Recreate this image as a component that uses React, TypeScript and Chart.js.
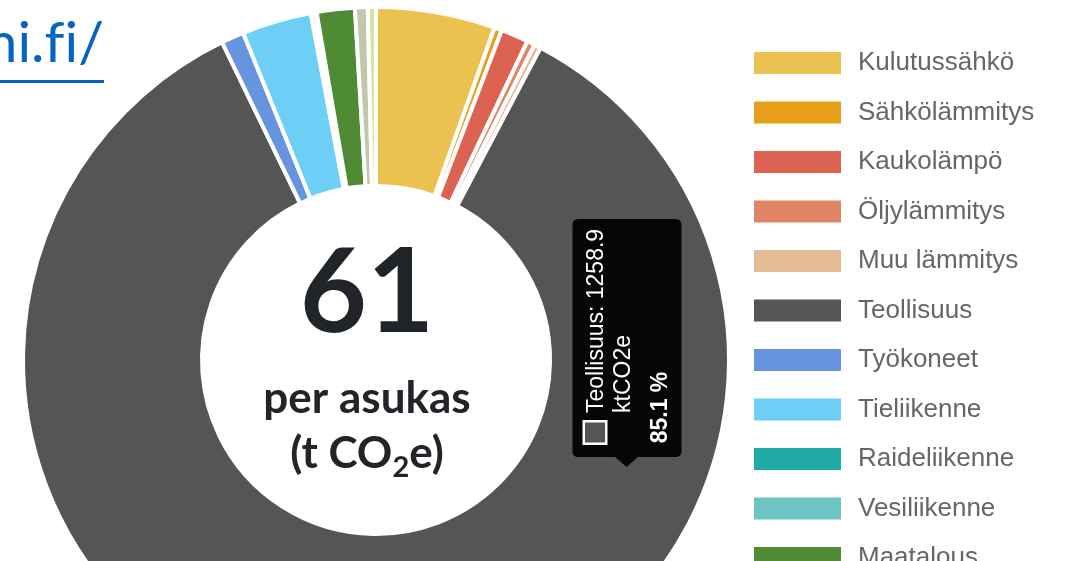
import React, { useEffect, useRef } from "react";
import { Chart, registerables } from "chart.js";

Chart.register(...registerables);

const labels = [
  "Kulutussähkö",
  "Sähkölämmitys",
  "Kaukolämpö",
  "Öljylämmitys",
  "Muu lämmitys",
  "Teollisuus",
  "Työkoneet",
  "Tieliikenne",
  "Raideliikenne",
  "Vesiliikenne",
  "Maatalous",
  "Jätteiden käsittely",
  "F-kaasut",
];
const emissions = [80.7, 5.1, 18.6, 5.3, 4.5, 1258.9, 15.4, 47.0, 2.0, 2.0, 25.7, 8.6, 5.5];
const colors = [
  "#ebc250",
  "#e59f18",
  "#dc6352",
  "#df8465",
  "#e4bb95",
  "#555555",
  "#6694df",
  "#6dcff6",
  "#20aba9",
  "#6dc5c3",
  "#4f8a34",
  "#c0c8ab",
  "#d8e39c",
];
const unit = "ktCO2e";
const perCapita = "61";
const perCapitaLabel = "per asukas";
const hoveredIndex = 5;
const linkText = "hiilineutraalisuomi.fi/";

const SANS = '"Liberation Sans", Arial, Helvetica, sans-serif';

const centerText = {
  id: "centerText",
  afterDraw(chart: any) {
    const ctx = chart.ctx as CanvasRenderingContext2D;
    const cx = 367;
    ctx.save();
    ctx.fillStyle = "#212529";
    ctx.textAlign = "center";
    ctx.textBaseline = "alphabetic";
    ctx.font = "bold 116px Lato";
    ctx.fillText(perCapita, cx, 332);
    ctx.font = "bold 44px Lato";
    ctx.fillText(perCapitaLabel, cx, 413);
    const a = "(t CO";
    const s = "2";
    const b = "e)";
    ctx.font = "bold 44px Lato";
    const wa = ctx.measureText(a).width;
    const wb = ctx.measureText(b).width;
    ctx.font = "bold 29px Lato";
    const ws = ctx.measureText(s).width;
    let x = cx - (wa + ws + wb) / 2;
    ctx.textAlign = "left";
    ctx.font = "bold 44px Lato";
    ctx.fillText(a, x, 468);
    x += wa;
    ctx.font = "bold 29px Lato";
    ctx.fillText(s, x, 477);
    x += ws;
    ctx.font = "bold 44px Lato";
    ctx.fillText(b, x, 468);
    ctx.restore();
  },
};

const legendPlugin = {
  id: "sideLegend",
  afterDraw(chart: any) {
    const ctx = chart.ctx as CanvasRenderingContext2D;
    const lbls = chart.data.labels as string[];
    const bg = chart.data.datasets[0].backgroundColor as string[];
    ctx.save();
    ctx.font = `26px ${SANS}`;
    ctx.textBaseline = "alphabetic";
    ctx.textAlign = "left";
    lbls.forEach((l, i) => {
      const cy = 63 + 49.5 * i;
      ctx.fillStyle = bg[i];
      ctx.fillRect(754, cy - 11, 87, 22);
      ctx.fillStyle = "#666666";
      ctx.fillText(l, 858, cy + 7);
    });
    ctx.restore();
  },
};

const rotatedTooltip = {
  id: "rotatedTooltip",
  afterDraw(chart: any) {
    const ctx = chart.ctx as CanvasRenderingContext2D;
    const vals = chart.data.datasets[0].data as number[];
    const bg = chart.data.datasets[0].backgroundColor as string[];
    const total = vals.reduce((p, c) => p + c, 0);
    const i = hoveredIndex;
    const line1 = `${chart.data.labels[i]}: ${vals[i].toFixed(1)}`;
    const pct = `${((vals[i] / total) * 100).toFixed(1)} %`;
    ctx.save();
    ctx.translate(572.5, 457);
    ctx.rotate(-Math.PI / 2);
    const W = 238;
    const H = 109;
    const r = 6;
    ctx.fillStyle = "rgba(0,0,0,0.92)";
    ctx.beginPath();
    ctx.moveTo(r, 0);
    ctx.lineTo(W - r, 0);
    ctx.quadraticCurveTo(W, 0, W, r);
    ctx.lineTo(W, H - r);
    ctx.quadraticCurveTo(W, H, W - r, H);
    ctx.lineTo(r, H);
    ctx.quadraticCurveTo(0, H, 0, H - r);
    ctx.lineTo(0, 65.5);
    ctx.lineTo(-10, 54);
    ctx.lineTo(0, 42.5);
    ctx.lineTo(0, r);
    ctx.quadraticCurveTo(0, 0, r, 0);
    ctx.closePath();
    ctx.fill();
    ctx.fillStyle = "#ffffff";
    ctx.fillRect(12, 10, 25, 25);
    ctx.fillStyle = bg[i];
    ctx.fillRect(14.5, 12.5, 20, 20);
    ctx.fillStyle = "#ffffff";
    ctx.textAlign = "left";
    ctx.textBaseline = "alphabetic";
    ctx.font = `23px ${SANS}`;
    ctx.fillText(line1, 44, 30.5);
    ctx.fillText(unit, 44, 57.3);
    ctx.font = `bold 23px ${SANS}`;
    ctx.fillText(pct, 13.7, 94.6);
    ctx.restore();
  },
};

export default function App() {
  const ref = useRef<HTMLCanvasElement>(null);
  useEffect(() => {
    const chart = new Chart(ref.current as HTMLCanvasElement, {
      type: "doughnut",
      data: {
        labels,
        datasets: [
          {
            data: emissions,
            backgroundColor: colors,
            borderColor: "#ffffff",
            borderWidth: 4,
            hoverOffset: 0,
          },
        ],
      },
      options: {
        animation: false,
        responsive: false,
        events: [],
        radius: 353,
        cutout: "49.3%",
        layout: { padding: { left: 0, right: 314, top: 0, bottom: 0 } },
        plugins: { legend: { display: false }, tooltip: { enabled: false } },
      } as any,
      plugins: [centerText, legendPlugin, rotatedTooltip],
    });
    return () => chart.destroy();
  }, []);
  return (
    <div
      style={{
        position: "fixed",
        left: 0,
        top: 0,
        width: 1066,
        height: 561,
        overflow: "hidden",
        background: "#ffffff",
      }}
    >
      <canvas
        ref={ref}
        width={1066}
        height={720}
        style={{ position: "absolute", left: 0, top: 0, width: 1066, height: 720 }}
      />
      <a
        href="https://hiilineutraalisuomi.fi/"
        style={{
          position: "absolute",
          right: 962,
          top: 12,
          fontFamily: "Lato",
          fontSize: 57,
          lineHeight: 1,
          color: "#0563c1",
          textDecoration: "underline",
          textDecorationThickness: 3,
          textUnderlineOffset: 18,
          fontVariantLigatures: "none",
          whiteSpace: "nowrap",
        }}
      >
        {linkText}
      </a>
    </div>
  );
}
